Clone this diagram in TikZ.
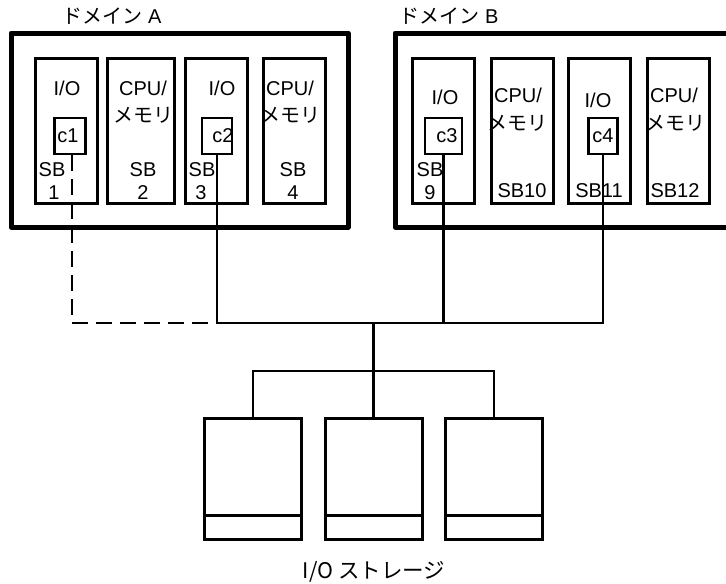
\documentclass[tikz,border=0pt]{standalone}
\usepackage{fontspec}
\setmainfont{Liberation Sans}
\newfontfamily\jp{Noto Sans CJK JP}
\usetikzlibrary{positioning}

\tikzset{
  every node/.style={font=\fontsize{20}{24}\selectfont, inner sep=0pt},
  domainbox/.style={line width=5pt, line join=round},
  slotbox/.style={draw, line width=3pt, minimum width=62pt, minimum height=145pt},
  chipbox/.style={draw, line width=2.5pt, minimum height=36pt},
  wire/.style={line width=2.5pt},
  diskbox/.style={draw, line width=3pt, minimum width=97pt, minimum height=121pt}
}

\begin{document}
\begin{tikzpicture}[x=1pt,y=-1pt]
\useasboundingbox (0,0) rectangle (726,584);

% domains
\draw[domainbox] (11,33) rectangle (348,227);
\draw[domainbox] (740,33) -- (395,33) -- (395,227) -- (740,227);
\node (domA) at (112,16) {{\jp ドメイン} A};
\node (domB) at (449,16) {{\jp ドメイン} B};

% system boards
\node[slotbox] (sb1) at (66,130.5) {};
\node[slotbox, minimum width=67pt] (sb2) at (140.5,130.5) {};
\node[slotbox] (sb3) at (216,130.5) {};
\node[slotbox] (sb4) at (294,130.5) {};
\node[slotbox] (sb9) at (443.5,130.5) {};
\node[slotbox] (sb10) at (522,130.5) {};
\node[slotbox] (sb11) at (599.5,130.5) {};
\node[slotbox] (sb12) at (678,130.5) {};

% chips
\node[chipbox, minimum width=31pt] (c1) at (70,136) {};
\node[chipbox, minimum width=30pt] (c2) at (217,136) {};
\node[chipbox, minimum width=37pt] (c3) at (443.5,136) {};
\node[chipbox, minimum width=29pt] (c4) at (603,136) {};
\node (c1l) at (68,136) {c1};
\node (c2l) at (223,136) {c2};
\node (c3l) at (447,136) {c3};
\node (c4l) at (603,136) {c4};

% board texts
\node (io1) at (67,88) {I/O};
\node (sb1a) at (52,170) {SB};
\node (sb1b) at (54,193) {1};
\node (cpu2) at (143,88) {CPU/};
\node (mem2) at (143,115) {\jp メモリ};
\node (sb2a) at (143,170) {SB};
\node (sb2b) at (143,193) {2};
\node (io3) at (222,88) {I/O};
\node (sb3a) at (202,170) {SB};
\node (sb3b) at (201,193) {3};
\node (cpu4) at (290,88) {CPU/};
\node (mem4) at (290,115) {\jp メモリ};
\node (sb4a) at (293,170) {SB};
\node (sb4b) at (293,193) {4};
\node (io9) at (445,97) {I/O};
\node (sb9a) at (430,170) {SB};
\node (sb9b) at (430,193) {9};
\node (cpu10) at (518,95) {CPU/};
\node (mem10) at (517,123) {\jp メモリ};
\node (sb10a) at (522,191) {SB10};
\node (io11) at (598,100) {I/O};
\node (sb11a) at (599,191) {SB11};
\node (cpu12) at (674,95) {CPU/};
\node (mem12) at (675,123) {\jp メモリ};
\node (sb12a) at (675,191) {SB12};

% storage
\node[diskbox] (st1) at (253,478.5) {};
\node[diskbox] (st2) at (373.5,478.5) {};
\node[diskbox] (st3) at (494,478.5) {};
\foreach \s in {st1,st2,st3}
  \draw[line width=3pt] ([yshift=25pt]\s.south west) -- ([yshift=25pt]\s.south east);
\node[font=\fontsize{21.5}{24}\selectfont] (stl) at (374,572) {\jp I/O ストレージ};

% bus
\coordinate (b1) at (72,323);
\coordinate (b2) at (217,323);
\coordinate (b3) at (373.5,323);
\coordinate (b4) at (443.5,323);
\coordinate (b5) at (603,323);
\coordinate (sp) at (373.5,371);
\draw[wire, dash pattern=on 16pt off 8pt] (c1.south -| b1) -- (b1) -- (b2);
\draw[wire] (c2.south) -- (b2) -- (b5) -- (c4.south);
\draw[wire] (c3.south) -- (b4);
\draw[wire] (b3) -- (st2.north);
\draw[wire] (st1.north) |- (sp) -| (st3.north);

\end{tikzpicture}
\end{document}
